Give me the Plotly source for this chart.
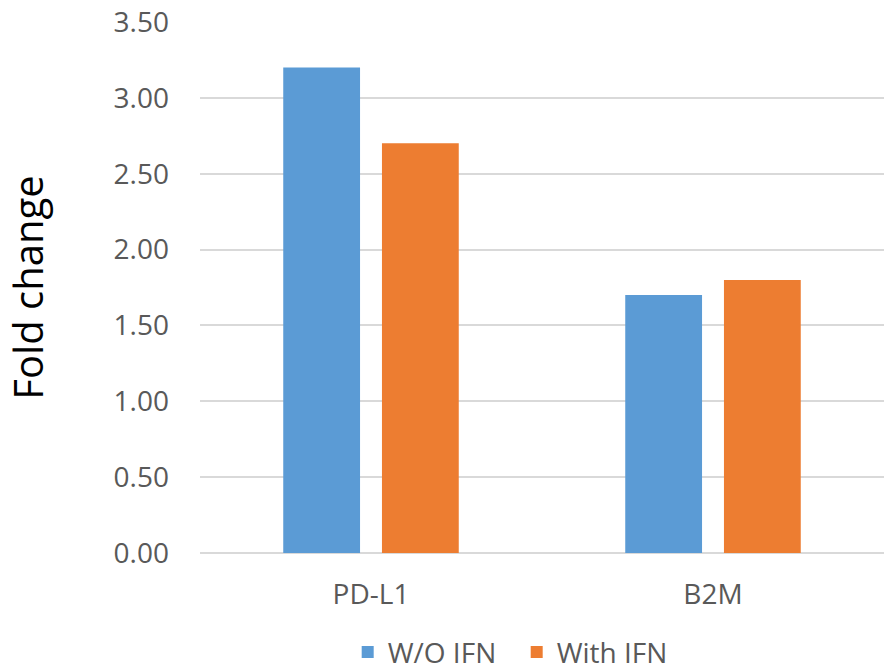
import plotly.graph_objects as go

# Gene expression fold change, with and without interferon treatment
genes = ["PD-L1", "B2M"]
without_ifn = [3.20, 1.70]
with_ifn = [2.70, 1.80]
series_names = ["W/O IFN", "With IFN"]
y_ticks = [0, 0.5, 1.0, 1.5, 2.0, 2.5, 3.0, 3.5]

BLUE = "#5B9BD5"
ORANGE = "#ED7D31"
TEXT_GREY = "#595959"
GRID = "#D9D9D9"
FONT = "Open Sans, Segoe UI, sans-serif"

fig = go.Figure()
fig.add_trace(go.Bar(x=genes, y=without_ifn, name=series_names[0],
                     marker=dict(color=BLUE, line=dict(width=0))))
fig.add_trace(go.Bar(x=genes, y=with_ifn, name=series_names[1],
                     marker=dict(color=ORANGE, line=dict(width=0))))

fig.update_layout(
    width=884, height=672,
    margin=dict(l=200, r=0, t=22, b=119, autoexpand=False),
    paper_bgcolor="white", plot_bgcolor="white",
    barmode="group", bargap=0.4227, bargroupgap=0.222,
    font=dict(family=FONT, size=28, color=TEXT_GREY),
    showlegend=True,
    legend=dict(orientation="h", x=0.463, xanchor="center", y=-0.14, yanchor="top",
                font=dict(family=FONT, size=28, color=TEXT_GREY),
                itemwidth=30, entrywidth=124, tracegroupgap=0, traceorder="normal"),
)

fig.update_xaxes(
    showgrid=False, showline=False, zeroline=False,
    tickfont=dict(family=FONT, size=28, color=TEXT_GREY),
    ticks="", ticklabelstandoff=22,
)
fig.update_yaxes(
    range=[0, 3.5], tickvals=y_ticks, tickformat=".2f",
    showgrid=True, gridcolor=GRID, gridwidth=2,
    zeroline=True, zerolinecolor=GRID, zerolinewidth=2,
    showline=False, ticks="",
    tickfont=dict(family=FONT, size=28, color=TEXT_GREY),
    ticklabelstandoff=30,
    title=dict(text="Fold change", font=dict(family=FONT, size=40, color="black"), standoff=57),
)

fig.write_html("out.html")
